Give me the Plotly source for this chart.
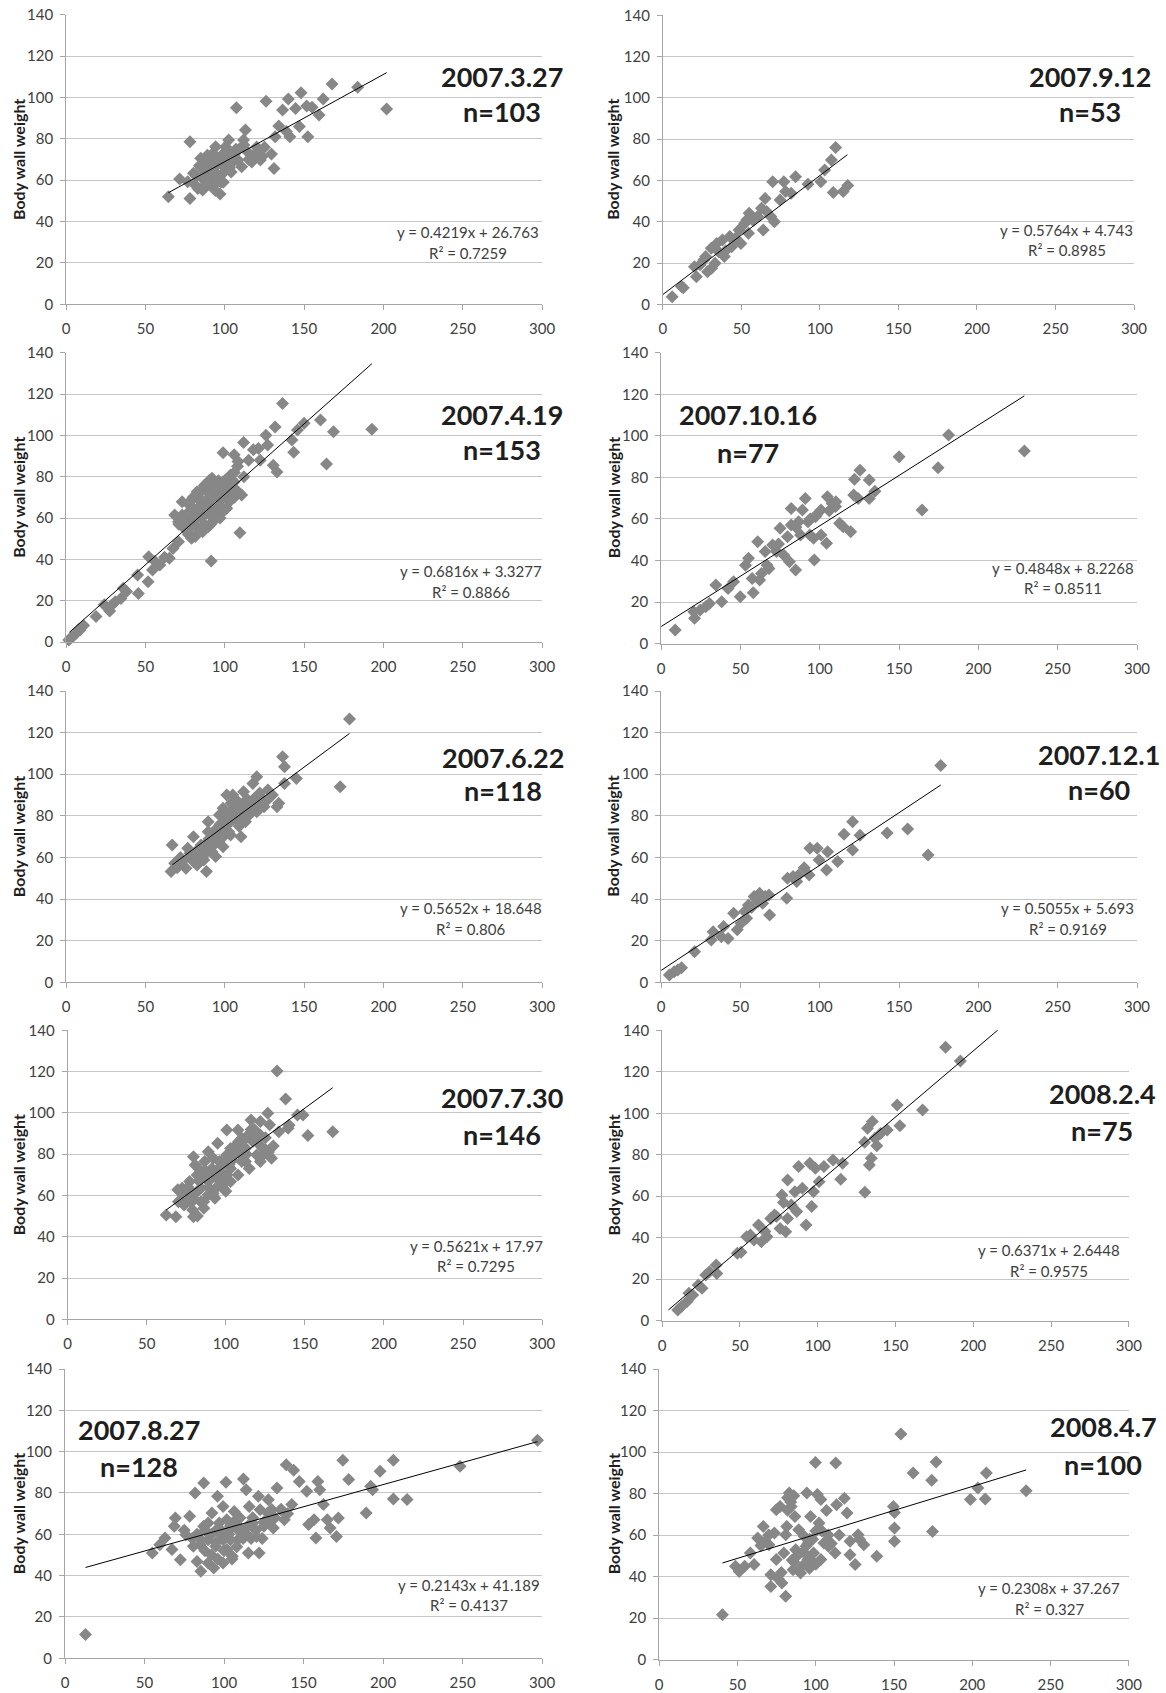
import plotly.graph_objects as go

# ---------------------------------------------------------------------------
# Sampling dates, sample sizes and linear regression results for each panel
# ---------------------------------------------------------------------------
dates = ["2007.3.27", "2007.9.12", "2007.4.19", "2007.10.16", "2007.6.22",
         "2007.12.1", "2007.7.30", "2008.2.4", "2007.8.27", "2008.4.7"]
n_counts = [103, 53, 153, 77, 118, 60, 146, 75, 128, 100]
slopes = [0.4219, 0.5764, 0.6816, 0.4848, 0.5652, 0.5055, 0.5621, 0.6371, 0.2143, 0.2308]
intercepts = [26.763, 4.743, 3.3277, 8.2268, 18.648, 5.693, 17.97, 2.6448, 41.189, 37.267]
r_squared = [0.7259, 0.8985, 0.8866, 0.8511, 0.806, 0.9169, 0.7295, 0.9575, 0.4137, 0.327]
fit_start = [64.4, 0, 2, 0, 67, 0, 62.3, 4, 12.9, 40.4]
fit_end = [202, 117.5, 192.7, 229, 178.6, 176.3, 167.6, 225, 297.1, 234.4]

x_ticks = [0, 50, 100, 150, 200, 250, 300]
y_ticks = [0, 20, 40, 60, 80, 100, 120, 140]
y_title = "Body wall weight"

# ---------------------------------------------------------------------------
# Measurements (x = total weight, y = body wall weight)
# ---------------------------------------------------------------------------
x_20070327 = [64.4, 71.5, 78, 78, 97, 107.3, 126, 140, 148, 167.6, 183.7, 202, 162, 159.4,
              152.3, 155, 151.6, 144.6, 136.4, 147, 141, 138.8, 134, 131.7, 131, 129.4, 125,
              121, 117, 113, 111.8, 110.6, 102.4, 100.5, 94.2, 92.6, 84.8, 104, 106, 98.9,
              89.5, 81.3, 86, 93, 95.4, 87.2, 80.2, 76.6, 91.9, 96.6, 108.3, 114.2, 122.4,
              123.5, 88, 90, 92, 96, 99, 101, 103, 84, 86.5, 95, 97.5, 105, 109, 83, 91, 94,
              82, 85, 88, 90, 93, 95, 98, 100, 102, 104, 89, 87, 91, 96, 99, 107, 112, 115,
              118, 120]
y_20070327 = [52.0, 60.6, 78.6, 51.2, 53.3, 95, 98.1, 99.2, 102.3, 106.5, 104.9, 94.4, 99.2, 91.5,
              81, 95.2, 95.9, 94.7, 93.9, 85.9, 81, 83.5, 86.2, 81, 65.7, 72.7, 75.9,
              73, 68.8, 84.3, 79.4, 66.5, 79.4, 76.2, 76.2, 73, 70.6, 68.1, 73, 63.3,
              60.1, 57.7, 55.3, 57.7, 61.7, 64.9, 63.3, 59.3, 66.5, 69.8, 69.8, 73.8, 69.8,
              71.4, 58, 62, 65, 68, 71, 74, 66, 67, 62, 63, 59, 71, 75, 56, 70, 55,
              62, 66, 68, 58, 64, 70, 72, 66, 70, 64, 72, 60, 67, 62, 59, 75, 77, 70,
              72, 76]

x_20070912 = [5.9, 11.8, 21.3, 23.7, 26, 30.8, 28.4, 33.2, 35.5, 37.9, 39.1, 43.8, 42.6, 49.7,
              48.5, 52.1, 54.9, 54.5, 60.4, 62.8, 63.9, 65.1, 69.9, 71, 74.6, 77, 78.1, 81.7,
              84.5, 92.4, 100.6, 103, 107.3, 110, 108.5, 114.8, 117.7, 68.7, 58, 53.3, 46.2,
              34.3, 27.2, 20.1, 13, 57, 66, 31, 40]
y_20070912 = [3.7, 8.6, 13.4, 19.1, 21.5, 27.1, 15.8, 19.9, 25.5, 31.2, 23.1, 27.9, 32.8, 29.5,
              36, 39.2, 44.1, 34.4, 42.5, 46.5, 36, 51.3, 59.4, 40, 50.5, 59.4, 54.6, 53.8,
              61.8, 58.1, 59.4, 65, 69.9, 75.9, 54.1, 54.6, 57.5, 42.5, 40.8, 40.8, 32,
              29.5, 23.1, 18.2, 8, 41, 45, 17.5, 26]

x_20070419 = [1.6, 4, 6.3, 8.7, 18.8, 27.4, 30.9, 34.5, 38, 45.5, 45, 51.6, 52, 54.4, 59, 65,
              67.3, 70.8, 73.1, 79, 81.3, 91.4, 109.5, 98.9, 111.8, 105.9, 108.3, 121.2, 122.3,
              125.9, 127, 131.7, 132.9, 130.5, 136.4, 142.3, 143.4, 150, 145.8, 160.3, 164.1,
              168.5, 192.7, 110.6, 101.2, 94.2, 89.5, 84.8, 80.2, 75.5, 73.1, 82.5, 87.2, 91.9,
              94.2, 89.5, 84.8, 98.9, 103.6, 96.6, 77.8, 80.2, 76.6, 86, 89.5, 93, 103.6, 105.9,
              101.2, 74.3, 70.8, 68.4, 83, 86, 88, 90, 92, 95, 97, 99, 100, 102, 85, 87, 91, 93,
              96, 78, 81, 84, 88, 92, 97, 106, 108, 112, 115, 118, 11, 8, 3, 24, 29, 36, 56, 62,
              76, 79, 82, 85, 88, 90, 92, 94, 96, 98, 100, 102, 104, 106, 108, 84, 86, 88, 90,
              80, 78, 94, 97, 100, 103, 73, 71, 77, 83, 91]
y_20070419 = [1, 2.6, 4.2, 5.8, 12.3, 15, 19.5, 21.1, 24.4, 23.5, 32.4, 29.2, 41.3, 34.8, 37.3, 40.5,
              45.3, 48.5, 67.9, 50.2, 51, 39.2, 52.9, 91.6, 96.6, 90.6, 87.4, 93.7, 88,
              100.1, 95.3, 104.1, 82.3, 85.5, 115.4, 97.7, 91.8, 105.8, 102.6, 107.4, 86.1,
              101.8, 102.9, 71.1, 69.5, 59.8, 55.8, 60.6, 64.7, 58.2, 61.4, 72.7, 75.9, 79.2,
              72.7, 67.9, 67.9, 77.6, 80.8, 67.9, 67.9, 58.2, 53.4, 53.4, 72.7, 64.7, 72.7, 77.6,
              64.7, 55, 58.2, 61.4, 70, 74, 62, 70, 76, 74, 66, 71, 75, 69, 66, 57, 64, 68,
              78, 62, 60, 63, 65, 58, 62, 82, 85, 80, 88, 93, 8, 6, 2, 18, 18, 26, 39, 41,
              62, 56, 60, 64, 66, 62, 68, 74, 70, 72, 78, 74, 76, 70, 73, 72, 74, 76, 78,
              70, 66, 64, 60, 64, 68, 60, 57, 52, 55, 57]

x_20071016 = [8.9, 20.6, 21.1, 24.6, 28.1, 30.5, 34.5, 38.2, 42.2, 45.7, 49.9, 53.2, 55.1, 57.4,
              58.1, 62.1, 63.3, 65.6, 66.8, 70.3, 72.7, 75, 77.3, 79.7, 80.9, 82, 84.8, 87.9,
              89.1, 90.9, 92.6, 96.1, 96.6, 97.3, 100.8, 104.3, 104.8, 107.8, 110.2, 112.5,
              114.8, 119.5, 121.4, 121.9, 125.4, 124.2, 131.2, 131.2, 134.8, 150, 164.5, 174.6,
              181.2, 229, 82, 86.7, 93.8, 100.8, 60.9, 68, 94, 98, 106, 110, 85, 74]
y_20071016 = [6.6, 15.4, 12.2, 16.2, 17.8, 19.4, 28.2, 20.2, 26.6, 29.8, 22.6, 37.8, 41.1, 31.4,
              24.5, 30.6, 33.8, 44.3, 37.8, 47.5, 44.3, 55.5, 42.7, 51.5, 39.4, 57.1, 35.4, 52.3,
              64.3, 69.9, 58.7, 50.7, 40.3, 61.1, 64.3, 48.3, 70.7, 67.5, 68.3, 57.9,
              56.3, 53.9, 71.5, 79.1, 83.5, 69.9, 78.7, 69.9, 73.4, 90, 64.3, 84.7,
              100.4, 92.7, 65.1, 58.7, 52.3, 52.3, 49.1, 36.2, 60, 62, 64, 66, 56, 48]

x_20070622 = [66.1, 66.8, 68.4, 75.5, 80.2, 76.6, 73.1, 80.2, 86.7, 89.5, 91.9, 95.4, 96.6, 98.9,
              101.2, 103.6, 105.9, 110.2, 111.8, 117.7, 120.1, 115.3, 122.4, 127.1, 124.7, 132.9,
              136.4, 137.6, 137.6, 145.1, 172.7, 178.6, 84.8, 89.5, 94.2, 98.9, 103.6, 108.3, 113,
              98.9, 102.4, 94.2, 88.4, 82.5, 108.3, 114.2, 120.1, 96.6, 89.5, 105, 70, 72, 78,
              83, 92, 100, 107, 112, 118, 126, 130, 134, 104, 109, 116, 93, 87, 99,
              78, 82, 85, 88, 90, 93, 95, 97, 100, 102, 104, 106, 108, 110, 112, 114, 116, 118,
              120, 122, 124, 91, 94, 99, 101]
y_20070622 = [53.2, 66, 57.2, 54.8, 70, 64.4, 58, 58, 58.8, 77.2, 62.8, 67.6, 80.4, 65.2,
              90, 77.2, 83.6, 70, 91.6, 95.6, 98.8, 80.4, 89.2, 92.4, 84.4, 84.4,
              108.4, 103.6, 95.6, 98, 94, 126.5, 64.4, 67.6, 72.4, 75.6, 70.8, 78.8, 77.2,
              83.6, 72.4, 60.4, 53.2, 56.4, 86.8, 86.8, 82, 70.8, 72.4, 90, 55, 60, 62,
              61, 69, 73, 79, 82, 86, 87, 90, 86, 86, 75, 83, 66, 63, 79,
              60, 63, 66, 62, 69, 71, 74, 76, 78, 80, 82, 80, 84, 82, 85, 88, 84, 88,
              86, 91, 88, 65, 68, 70, 73]

x_20071201 = [5.2, 8.2, 10.5, 12.9, 21.1, 31.6, 32.8, 38, 39.4, 45.7, 48, 50.4, 52.7, 55.1, 58.6,
              62.1, 65.6, 68, 68.4, 79.2, 79.7, 83.2, 85.5, 90.2, 93.3, 93.8, 98.4, 99.6, 104.3,
              105, 111.3, 115.3, 120.7, 120.7, 125.4, 142.5, 155.4, 168.3, 176.3, 61.2, 53.9,
              42.2, 86.7, 57, 60, 64]
y_20071201 = [3.5, 5.1, 5.9, 7, 14.7, 20.3, 24.3, 21.9, 26.8, 33.2, 25.2, 28.4, 34, 37.2, 41.2,
              42.8, 41.2, 42, 32.4, 40.4, 50, 50.8, 48.4, 55.1, 51.6, 64.4, 64.4, 58.8, 54,
              62.8, 58, 71.1, 77.2, 63.6, 70.7, 71.7, 73.7, 61.2, 104.2, 38.8, 30.8,
              21.1, 51.6, 36, 40, 38]

x_20070730 = [62.3, 68.4, 69.6, 73.6, 79.5, 79.5, 86.1, 86.6, 88.9, 94.8, 93.1, 100.6, 97.8, 103,
              107.7, 110.1, 112.4, 115.9, 121.8, 126.5, 127.7, 121.8, 128.9, 125.3, 132.4, 133.5,
              137.8, 139.4, 145.3, 148.8, 151.9, 167.6, 72.4, 77.1, 81.8, 84.2, 88.9, 91.2, 95.9,
              98.3, 103, 105.3, 107.7, 112.4, 114.8, 117.1, 119.5, 110.1, 103, 93.6, 88.9, 84.2,
              77.1, 73.6, 80.6, 93.6, 100.6, 121.8, 75, 82, 90, 96, 99, 106, 109, 118, 124,
              70, 84, 92, 102, 113, 116, 130, 140,
              74, 76, 78, 80, 83, 85, 87, 89, 91, 94, 97, 99, 101, 104, 106, 108, 111, 113,
              115, 118, 120, 122, 125, 127, 96, 100, 92, 86, 79, 82]
y_20070730 = [50.5, 49.7, 62.7, 55.4, 49.7, 78.8, 53.8, 76.4, 81.2, 85.3, 58.6, 91.7, 69.9, 66.7,
              91.7, 87.7, 76.4, 96.6, 95.8, 99.8, 94.2, 76.4, 78, 82, 120.3, 90.9,
              106.7, 92.5, 99, 99, 89, 90.9, 63.5, 66.7, 69.9, 63.5, 66.7, 73.1, 76.4,
              63.5, 73.1, 79.6, 69.9, 82.8, 73.1, 86.1, 79.6, 76.4, 82.8, 63.5, 60.3, 57,
              57, 59.4, 74.8, 69.9, 69.9, 89.3, 58, 62, 68, 72, 66, 84, 80, 90, 80,
              57, 72, 78, 75, 88, 92, 84, 94,
              60, 64, 62, 58, 67, 70, 72, 64, 69, 72, 74, 78, 80, 77, 82, 86, 84, 80,
              90, 92, 88, 84, 88, 81, 67, 62, 61, 57, 53, 50]

x_20080204 = [10, 12.4, 16, 17.2, 19.6, 23.2, 25.6, 28, 30.4, 34.7, 35.1, 48.3, 50.7, 54.3, 56.7,
              59, 61.9, 63.8, 67.4, 69.8, 72.2, 75.8, 77, 79.4, 80.6, 80.6, 83, 86.5, 87.7, 90.1,
              94.9, 96.1, 97.3, 98.5, 100.9, 104, 109.8, 114.8, 116, 130.3, 130.1, 132, 133.2,
              134.4, 135.1, 136.8, 138, 140.4, 144.7, 151.1, 152.8, 167.4, 182.2, 191.7, 85.3,
              92.5, 73.4, 66, 78]
y_20080204 = [5.1, 6.8, 9.2, 13.2, 12.4, 17.2, 15.6, 22, 23.6, 26.8, 22.8, 32.5, 33, 40.5, 41.3,
              38.9, 46.1, 38.1, 40.5, 49.3, 51, 44.5, 60.6, 42.9, 67.8, 49.3, 55.8, 52.6, 74.3, 63.8,
              75.9, 55, 62.2, 73.5, 67, 74.3, 77.5, 68.2, 75.9, 61.9, 86, 92.8, 75.1,
              78.3, 96, 88, 84.4, 90.3, 91.9, 104, 94, 101.6, 131.8, 125.2, 62.2,
              46.1, 50.2, 43, 57]

x_20070827 = [12.9, 54.9, 59.6, 62.9, 67.3, 68.7, 69.4, 72.5, 76, 78.4, 80.7, 81.8, 83, 85.4, 87.2,
              87.2, 90, 92.4, 93.5, 95.9, 97, 99.4, 99.4, 101.2, 101.7, 104, 106.4, 108.7, 112.2,
              113.9, 115.3, 115.8, 118.1, 121.6, 122.1, 125.1, 127.9, 131, 133.3, 135.6, 137.9,
              139.1, 142.6, 143.8, 147.3, 152, 153.2, 156.6, 157.8, 159, 160.2, 162.5, 164.9,
              166.7, 170.7, 171.9, 174.7, 178.4, 189.4, 192.2, 193.4, 198.1, 206.5, 206.5, 215.1,
              248.4, 297.1, 90, 94.7, 99.4, 104, 108.7, 113.3, 122.7, 127.4, 111, 101.7, 90,
              85.4, 97, 120.4, 105.2, 95, 103, 110, 117, 125, 130, 88, 83,
              85, 88, 92, 95, 98, 100, 103, 106, 109, 112, 115, 118, 100, 96, 108, 120, 124,
              128, 132, 136, 140, 92, 105, 80, 75]
y_20070827 = [11.5, 51, 55, 58.2, 52.6, 63.9, 67.9, 47.7, 59.8, 68.7, 54.2, 80, 46.9, 42.1, 84.8,
              63.9, 46.1, 70.3, 43.7, 78.4, 60.6, 46.1, 73.5, 85.2, 52.6, 63.9, 71.1, 57.4, 86.8,
              81.6, 51, 73.5, 65.5, 78.4, 51, 63.9, 76.7, 63.1, 82.4, 71.9, 67.1,
              93.7, 74.4, 91, 85.6, 80.8, 64.7, 67.1, 58.2, 85.6, 81.6, 74.4, 67.1,
              63.1, 59, 67.9, 95.8, 86.5, 70.3, 83.2, 81.6, 90.5, 95.8, 77.1, 76.8,
              92.9, 105.5, 57.4, 54.2, 57.4, 57.4, 67.1, 60.6, 71.9, 70.3, 62.3, 67.1, 65.5,
              57.4, 65.5, 59, 49.4, 62, 60, 68, 58, 66, 72, 52, 60,
              55, 62, 50, 56, 62, 58, 62, 66, 62, 58, 64, 68, 52, 48, 54, 62, 58,
              66, 68, 72, 70, 60, 48, 58, 62]

x_20080407 = [40.4, 48.7, 51.1, 54.6, 58.2, 60.6, 62.9, 66.5, 67.7, 70.1, 71.3, 71.3, 73.6, 74.8,
              74.8, 77.2, 78.4, 79.6, 80.8, 80.8, 81.5, 83.1, 84.3, 85.5, 86.7, 87.2, 90.3, 92.6,
              94.3, 95, 96.7, 97.4, 99.8, 101, 102.1, 103.3, 105.2, 106.9, 108.1, 112.4, 112.8,
              113.3, 118.3, 120, 121.9, 121.9, 125.2, 127.1, 130.7, 139, 149.6, 150.3, 150.3,
              150.3, 154.4, 162.2, 174.1, 174.6, 176.9, 198.8, 203.6, 208.3, 209, 234.4, 89.1,
              91.4, 98.6, 93.8, 103.3, 76, 82, 86, 96, 100, 108, 128,
              65, 70, 78, 85, 88, 92, 95, 98, 104, 110, 115, 82, 84, 86, 100, 96]
y_20080407 = [21.7, 45, 42.5, 45, 51.4, 45.8, 58.6, 64.2, 57, 55.4, 40.9, 35.3, 61, 72.2,
              48.2, 73.8, 36.9, 51.4, 30.5, 60.2, 64.2, 80.3, 73.8, 43.3, 69, 53, 41.7, 59.4,
              80.3, 48.2, 69, 47.4, 95, 79.5, 65.8, 77.1, 56.2, 71.9, 54.6, 51.4, 94.7,
              74.6, 77.7, 70.7, 57, 50.6, 45.8, 60.2, 55.4, 49.8, 73.8, 63.4, 57,
              70.9, 108.7, 89.9, 86.4, 61.8, 95.2, 77.1, 82.7, 77.4, 89.9, 81.4, 62.6,
              45, 51.4, 54.6, 48.2, 39, 78, 47, 58, 62, 60, 58,
              55, 60, 42, 48, 50, 52, 56, 58, 62, 56, 60, 72, 76, 79, 46, 44]

x_values = [x_20070327, x_20070912, x_20070419, x_20071016, x_20070622,
            x_20071201, x_20070730, x_20080204, x_20070827, x_20080407]
y_values = [y_20070327, y_20070912, y_20070419, y_20071016, y_20070622,
            y_20071201, y_20070730, y_20080204, y_20070827, y_20080407]

# ---------------------------------------------------------------------------
# Page geometry (pixels): plot boxes, date labels, equation labels
# ---------------------------------------------------------------------------
W, H = 1166, 1693
boxes = [  # left, right, top, bottom
    (66.2, 542.1, 14.7, 304.3), (662.9, 1134.0, 15.3, 304.3),
    (66.2, 542.1, 352.7, 642.0), (661.1, 1137.0, 352.7, 643.7),
    (66.2, 542.1, 691.0, 982.3), (661.1, 1137.0, 691.0, 982.3),
    (67.7, 542.1, 1030.3, 1319.3), (662.2, 1128.8, 1030.3, 1320.7),
    (65.0, 542.1, 1369.0, 1658.3), (659.2, 1128.8, 1369.0, 1659.7),
]
label_pos = [(502, 76, 111), (1090, 77, 112), (502, 415, 449), (748, 415, 452),
             (503, 757, 790), (1099, 754, 789), (502, 1097, 1134), (1102, 1093, 1130),
             (139, 1429, 1466), (1103, 1426, 1464)]
eq_pos = [(468, 232, 252.6), (1066.7, 230, 250.5), (470.7, 571, 591.6), (1063.4, 568, 588.4),
          (470.7, 908, 928.5), (1067.7, 908, 928.5), (476, 1246, 1266.4), (1049.4, 1250, 1270.7),
          (468.5, 1585, 1605.4), (1049.4, 1588, 1608.6)]

FONT = "Lato"
MARKER = "#878787"
GRID = "#c6c6c6"
AXIS = "#a6a6a6"
TICK_TXT = "#404040"
TITLE_TXT = "#1e1e1e"


def px(x):
    return x / W


def py(y):
    return 1 - y / H


fig = go.Figure()
layout = {}
annotations = []

for i in range(10):
    sfx = "" if i == 0 else str(i + 1)
    xa, ya = "x" + sfx, "y" + sfx
    left, right, top, bottom = boxes[i]

    fig.add_trace(go.Scatter(
        x=x_values[i], y=y_values[i], mode="markers", xaxis=xa, yaxis=ya,
        marker=dict(symbol="diamond", size=10, color=MARKER, line=dict(width=0)),
        cliponaxis=False, showlegend=False, hoverinfo="x+y"))

    fx = [fit_start[i], fit_end[i]]
    fy = [slopes[i] * v + intercepts[i] for v in fx]
    fig.add_trace(go.Scatter(
        x=fx, y=fy, mode="lines", xaxis=xa, yaxis=ya,
        line=dict(color="#000000", width=1), showlegend=False, hoverinfo="skip"))

    layout["xaxis" + sfx] = dict(
        domain=[px(left), px(right)], anchor=ya, range=[0, 300], automargin=False,
        tickvals=x_ticks, showgrid=False, zeroline=False,
        showline=True, linecolor=AXIS, linewidth=1,
        ticks="outside", ticklen=5, tickcolor=AXIS, ticklabelstandoff=6,
        tickfont=dict(family=FONT, size=15, color=TICK_TXT), fixedrange=True)
    layout["yaxis" + sfx] = dict(
        domain=[py(bottom), py(top)], anchor=xa, range=[0, 140], automargin=False,
        tickvals=y_ticks, showgrid=True, gridcolor=GRID, gridwidth=1, zeroline=False,
        showline=True, linecolor=AXIS, linewidth=1,
        ticks="outside", ticklen=5, tickcolor=AXIS, ticklabelstandoff=4,
        tickfont=dict(family=FONT, size=15, color=TICK_TXT), fixedrange=True)

    # axis title
    annotations.append(dict(
        text="<b>" + y_title + "</b>", textangle=-90, xref="paper", yref="paper",
        x=px(18.5 if i % 2 == 0 else 613), y=py((top + bottom) / 2),
        xanchor="center", yanchor="middle", showarrow=False,
        font=dict(family=FONT, size=16, color=TITLE_TXT)))

    # date and sample size
    cx, y1, y2 = label_pos[i]
    annotations.append(dict(
        text="<b>" + dates[i] + "</b>", xref="paper", yref="paper", x=px(cx), y=py(y1),
        xanchor="center", yanchor="middle", showarrow=False,
        font=dict(family=FONT, size=27, color=TITLE_TXT)))
    annotations.append(dict(
        text="<b>n=" + str(n_counts[i]) + "</b>", xref="paper", yref="paper", x=px(cx), y=py(y2),
        xanchor="center", yanchor="middle", showarrow=False,
        font=dict(family=FONT, size=27, color=TITLE_TXT)))

    # regression equation and coefficient of determination
    ex, ey1, ey2 = eq_pos[i]
    annotations.append(dict(
        text="y = " + str(slopes[i]) + "x + " + str(intercepts[i]), xref="paper", yref="paper",
        x=px(ex), y=py(ey1), xanchor="center", yanchor="middle", showarrow=False,
        font=dict(family=FONT, size=15, color=TICK_TXT)))
    annotations.append(dict(
        text="R² = " + str(r_squared[i]), xref="paper", yref="paper",
        x=px(ex), y=py(ey2), xanchor="center", yanchor="middle", showarrow=False,
        font=dict(family=FONT, size=15, color=TICK_TXT)))

fig.update_layout(
    width=W, height=H, margin=dict(l=0, r=0, t=0, b=0, autoexpand=False),
    paper_bgcolor="white", plot_bgcolor="white",
    font=dict(family=FONT), annotations=annotations, **layout)

# the page body gets no default margin so the figure fills the window exactly
fig.write_html("out.html", config={"displayModeBar": False},
               post_script="document.body.style.margin='0';")
